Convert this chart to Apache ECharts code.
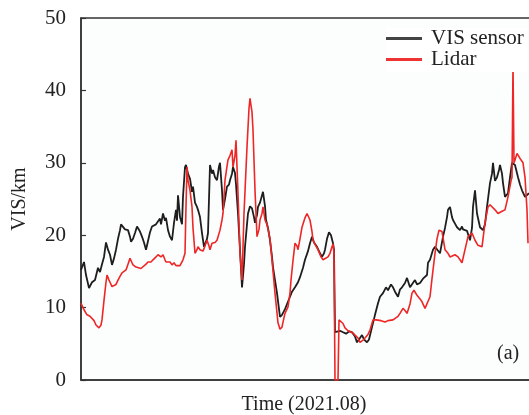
<!DOCTYPE html>
<html>
<head>
<meta charset="utf-8">
<script src="https://cdn.jsdelivr.net/npm/echarts@6/dist/echarts.min.js"></script>
<style>html,body{margin:0;padding:0;background:#fff;overflow:hidden}#c{width:529px;height:415px}</style>
</head>
<body>
<div id="c"></div>
<script>
// sample index (time steps through 2021.08) and visibility in km
var sensorT = [
  0,3,5,8,11,14,17,19,21,23,
  25,27,29,31,33,35,37,39,40,42,
  44,47,49,50,52,54,56,57,59,61,
  63,65,67,69,71,73,75,77,79,80,
  82,84,85,87,89,91,93,95,96,97,
  99,101,102,104,105,107,109,111,112,114,
  116,117,119,121,123,124,126,127,129,131,
  132,134,136,138,139,141,142,144,146,148,
  149,151,152,154,155,157,159,161,163,164,
  166,167,169,171,173,174,176,177,179,182,
  184,185,187,189,191,192,194,196,198,199,
  201,202,204,206,209,211,214,217,219,222,
  224,227,229,231,233,236,239,241,243,244,
  246,248,250,252,253,254,256,259,262,265,
  268,271,274,276,279,281,283,286,288,291,
  294,297,299,302,305,307,310,312,314,317,
  319,321,324,326,329,331,334,336,339,342,
  344,346,347,349,352,354,356,359,362,364,
  366,367,369,371,372,374,376,379,381,382,
  384,386,389,391,392,394,396,399,402,404,
  406,409,411,412,414,416,418,419,421,422,
  424,427,429,431,434,437,439,441,444,446,
  448];
var sensorVis = [
  15.2,16.3,14.5,12.7,13.5,13.8,15.5,14.9,16.0,17.0,
  19.0,18.0,17.3,15.9,16.8,18.0,19.5,20.7,21.5,21.4,
  20.8,20.7,19.8,19.1,19.5,20.3,21.2,21.0,20.5,19.8,
  19.0,18.0,19.2,20.4,21.2,21.1,21.5,21.7,22.3,21.5,
  23.0,22.0,22.4,20.7,19.8,19.3,21.7,23.5,22.0,25.5,
  22.5,21.5,25.3,29.4,29.7,28.5,27.8,26.0,26.7,24.5,
  23.9,23.5,22.5,20.3,18.4,18.2,19.5,20.3,29.7,28.5,
  29.0,28.0,27.6,29.5,30.0,26.2,23.5,25.0,26.7,27.0,
  27.6,28.5,29.4,28.6,27.0,23.0,18.0,12.8,16.0,18.4,
  21.5,23.0,24.0,23.7,22.5,21.7,22.8,23.9,24.5,26.0,
  24.0,22.1,21.0,19.3,17.0,15.6,13.8,12.0,9.8,8.7,
  9.0,9.2,9.8,9.7,11.5,12.2,12.8,13.5,14.2,15.5,
  16.6,17.8,18.9,19.8,19.0,18.4,17.5,17.0,17.5,18.0,
  19.5,20.4,20.0,18.9,18.0,6.6,6.6,6.8,6.6,6.4,
  6.7,6.6,6.0,5.2,5.8,6.2,5.6,5.2,5.6,7.3,
  9.0,10.6,11.5,12.0,12.8,12.4,13.2,12.8,12.2,11.5,
  12.5,12.8,13.4,14.1,12.8,13.0,13.8,13.2,13.4,14.0,
  13.8,14.5,16.2,16.6,18.0,18.4,18.6,17.5,19.8,21.0,
  22.5,23.5,23.9,22.5,22.1,21.6,21.1,20.7,21.2,20.8,
  21.0,20.6,19.3,21.0,23.9,26.2,23.0,21.1,20.7,21.5,
  23.9,27.2,28.5,30.0,27.5,28.0,29.0,29.7,28.5,27.2,
  25.3,25.8,28.0,30.0,29.7,28.0,27.0,26.2,25.3,25.5,
  25.8];
var lidarT = [
  0,2,3,6,9,11,13,15,18,20,
  21,23,25,26,28,29,31,33,35,37,
  39,41,43,45,47,49,51,52,55,57,
  60,62,65,67,70,72,75,77,80,82,
  84,85,87,89,91,93,95,97,99,102,
  104,105,106,107,109,111,112,114,116,117,
  119,121,122,124,126,128,129,131,132,134,
  136,139,141,142,144,146,147,149,151,152,
  154,155,157,159,161,163,166,168,169,171,
  172,174,176,178,179,181,182,184,186,187,
  189,191,194,197,199,201,202,204,206,207,
  209,210,212,214,216,217,219,221,224,226,
  228,229,231,232,235,237,240,242,244,247,
  249,251,252,253,254,257,258,262,264,267,
  269,272,274,277,279,282,284,287,289,292,
  295,297,300,304,307,309,312,314,317,319,
  322,324,326,329,331,333,336,339,341,344,
  346,349,351,354,356,358,361,364,367,369,
  371,374,377,379,381,384,387,389,391,394,
  397,399,401,404,407,409,411,414,417,421,
  424,427,430,431,432,433,434,436,439,442,
  444,446,447];
var lidarVis = [
  10.6,10.0,9.7,9.0,8.8,8.7,8.2,7.6,7.2,7.6,
  8.3,11.0,13.5,14.5,13.8,13.5,12.9,12.7,13.2,13.8,
  14.3,14.8,14.9,15.2,16.0,16.8,16.2,15.9,15.6,15.6,
  15.4,15.5,16.0,16.3,16.3,16.6,17.0,17.3,17.0,17.3,
  16.6,16.3,16.2,16.3,15.9,16.2,15.8,15.6,15.8,16.6,
  17.5,24.0,29.4,27.6,26.2,23.9,21.0,17.5,18.0,18.4,
  18.0,18.2,17.8,18.5,19.3,18.5,18.0,18.9,18.9,19.0,
  19.3,20.7,22.1,23.0,27.6,29.5,30.4,31.0,31.8,29.4,
  31.0,33.1,25.8,17.5,13.8,23.0,32.2,37.5,38.9,37.0,
  34.5,26.2,19.8,20.8,22.1,23.0,23.9,22.1,21.5,21.7,
  19.5,16.6,12.0,7.9,7.0,7.3,8.0,9.2,9.0,10.1,
  12.0,13.8,16.5,18.9,18.5,18.0,19.5,21.1,22.4,23.0,
  22.8,22.1,20.5,19.3,18.5,18.0,17.0,16.6,16.8,17.0,
  17.5,18.4,18.8,17.5,0,0,8.3,7.8,7.2,6.8,
  6.6,6.5,6.2,5.8,5.2,5.5,5.8,6.3,6.9,8.3,
  8.3,8.3,8.2,8.0,8.2,8.0,8.3,8.3,8.8,9.2,
  9.9,9.6,9.2,10.5,12.0,12.4,11.7,11.2,10.8,9.9,
  9.9,11.5,14.0,17.5,19.5,20.7,20.5,18.0,17.5,17.0,
  17.2,17.3,17.0,16.6,16.2,18.0,19.8,20.0,20.3,19.3,
  18.6,18.6,18.4,21.7,23.9,24.2,24.4,23.5,23.0,23.3,
  23.5,25.3,27.5,28.0,43.5,30.0,30.4,31.3,30.6,30.0,
  28.0,23.5,18.9];
var yTicks = [0, 10, 20, 30, 40, 50];
var seriesNames = ['VIS sensor', 'Lidar'];

function pairs(t, v) { return t.map(function (x, i) { return [x, v[i]]; }); }

var font = 'Liberation Serif';
var chart = echarts.init(document.getElementById('c'), null, { renderer: 'canvas' });
chart.setOption({
  animation: false,
  backgroundColor: '#fff',
  grid: { left: 81, top: 18, bottom: 35, right: -10, outerBoundsMode: 'none', containLabel: false,
          show: true, borderColor: '#333', borderWidth: 1.5, backgroundColor: '#fcfdfd' },
  legend: {
    orient: 'vertical', left: 386, top: 28, itemGap: 0,
    icon: 'rect', itemWidth: 36, itemHeight: 3,
    backgroundColor: '#fff', padding: [0, 4, 2, 0],
    textStyle: { fontFamily: font, fontSize: 21, color: '#222', lineHeight: 20, padding: [0, 0, 0, 4] },
    data: seriesNames
  },
  xAxis: {
    type: 'value', min: 0, max: 458,
    name: 'Time (2021.08)', nameLocation: 'middle', nameGap: 15,
    nameTextStyle: { fontFamily: font, fontSize: 20, color: '#222', padding: [0, 12, 0, 0] },
    axisLine: { show: true, lineStyle: { color: '#333', width: 1.5 } },
    axisTick: { show: false }, axisLabel: { show: false }, splitLine: { show: false }
  },
  yAxis: {
    type: 'value', min: yTicks[0], max: yTicks[yTicks.length - 1], interval: 10,
    name: 'VIS/km', nameLocation: 'middle', nameGap: 51,
    nameTextStyle: { fontFamily: font, fontSize: 20, color: '#222' },
    axisLine: { show: true, lineStyle: { color: '#333', width: 1.5 } },
    axisTick: { show: true, inside: true, length: 5, lineStyle: { color: '#333', width: 1.2 } },
    axisLabel: { fontFamily: font, fontSize: 21, color: '#222', margin: 15 },
    splitLine: { show: false }
  },
  graphic: [{
    type: 'text', left: 497, top: 344,
    style: { text: '(a)', fontFamily: font, fontSize: 20, fill: '#222' }
  }],
  series: [
    { name: seriesNames[0], type: 'line', data: pairs(sensorT, sensorVis), showSymbol: false,
      lineStyle: { color: '#1e1e1e', width: 1.8 }, itemStyle: { color: '#444' }, clip: true },
    { name: seriesNames[1], type: 'line', data: pairs(lidarT, lidarVis), showSymbol: false,
      lineStyle: { color: '#ee2626', width: 1.6 }, itemStyle: { color: '#ee3333' }, clip: true }
  ]
});
</script>
</body>
</html>
